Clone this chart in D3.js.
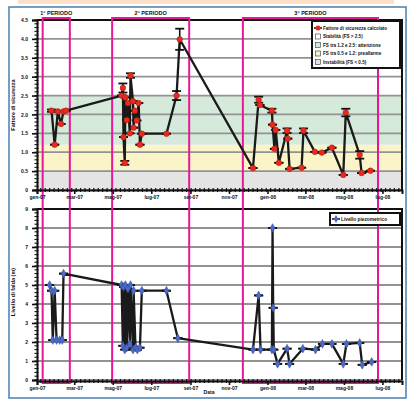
<!DOCTYPE html>
<html><head><meta charset="utf-8">
<script src="https://cdn.jsdelivr.net/npm/d3@7"></script>
<style>
html,body{margin:0;padding:0;background:#fff;}
svg{display:block;font-family:"Liberation Sans",Arial,sans-serif;}
</style></head><body>
<svg id="c" width="409" height="402"></svg>
<script>
// Monitoring periods
const periodNames = ["1° PERIODO", "2° PERIODO", "3° PERIODO"];
const periodStart = ["2007-01-10", "2007-04-30", "2007-11-23"];
const periodEnd   = ["2007-02-22", "2007-08-30", "2008-06-24"];

// Safety factor series (value ± error)
const fsDates = ["2007-01-24","2007-01-29","2007-02-03","2007-02-08","2007-02-12","2007-02-16",
  "2007-05-15","2007-05-17","2007-05-18","2007-05-20","2007-05-21","2007-05-23","2007-05-25","2007-05-28",
  "2007-05-29","2007-06-02","2007-06-03","2007-06-05","2007-06-08","2007-06-11","2007-06-13","2007-06-16",
  "2007-07-25","2007-08-10","2007-08-15",
  "2007-12-09","2007-12-18","2007-12-20","2008-01-08","2008-01-09","2008-01-12","2008-01-14","2008-01-19",
  "2008-02-01","2008-02-02","2008-02-05","2008-02-24","2008-02-27","2008-03-16","2008-03-27","2008-04-12",
  "2008-04-30","2008-05-04","2008-05-26","2008-05-29","2008-06-12"];
const fsValues = [2.10,1.20,2.08,1.75,2.08,2.10,
  2.50,2.70,1.40,0.72,2.45,1.85,2.30,1.50,
  3.03,2.35,1.65,2.10,1.84,2.30,1.20,1.49,
  1.49,2.50,3.99,
  0.58,2.39,2.25,2.10,1.73,1.09,1.59,0.72,
  1.57,1.36,0.56,0.59,1.57,1.01,0.99,1.12,
  0.40,2.05,0.93,0.45,0.51];
const fsErrors = [0.03,0,0,0,0,0,
  0,0.12,0,0.05,0,0,0,0,
  0.06,0,0,0,0,0,0,0,
  0,0.12,0.28,
  0,0.08,0,0.05,0,0,0,0,
  0.06,0,0,0,0.06,0,0,0,
  0,0.10,0.10,0,0];

// Safety factor thresholds (band limits)
const fsThresholds = [0, 0.5, 1.2, 2.5];

// Groundwater level series
const levelDates = ["2007-01-21","2007-01-24","2007-01-26","2007-01-29","2007-02-01","2007-02-06","2007-02-10","2007-02-12",
  "2007-05-15","2007-05-17","2007-05-18","2007-05-20","2007-05-21","2007-05-23","2007-05-25","2007-05-28","2007-05-29",
  "2007-06-02","2007-06-03","2007-06-06","2007-06-09","2007-06-13","2007-06-16","2007-07-25","2007-08-12",
  "2007-12-09","2007-12-18","2007-12-21","2008-01-08","2008-01-09","2008-01-10","2008-01-11","2008-01-17",
  "2008-02-01","2008-02-05","2008-02-26","2008-03-17","2008-03-28","2008-04-12","2008-04-30","2008-05-05",
  "2008-05-26","2008-05-30","2008-06-14"];
const levelValues = [5.0,4.7,2.1,4.7,2.1,2.1,2.1,5.6,
  5.0,1.8,4.9,1.6,5.0,1.7,4.8,1.9,5.0,
  1.6,4.7,1.7,1.6,1.7,4.7,4.7,2.2,
  1.6,4.45,1.6,1.6,8.0,3.8,1.6,0.85,
  1.65,0.85,1.65,1.6,1.9,1.9,0.85,1.9,
  1.95,0.8,0.95];

// Axis ticks
const monthTicks = ["2007-01-01","2007-03-01","2007-05-01","2007-07-01","2007-09-01","2007-11-01",
  "2008-01-01","2008-03-01","2008-05-01","2008-07-01"];
const monthLabels = ["gen-07","mar-07","mag-07","lug-07","set-07","nov-07","gen-08","mar-08","mag-08","lug-08"];
const fsTicks = [0,0.5,1,1.5,2,2.5,3,3.5,4,4.5];
const levelTicks = [0,1,2,3,4,5,6,7,8,9];

// Legend texts
const fsLegend = ["Fattore di sicurezza calcolato","Stabilità (FS > 2.5)","FS tra 1.2 e 2.5: attenzione",
  "FS tra 0.5 e 1.2: preallarme","Instabilità (FS < 0.5)"];
const levelLegend = ["Livello piezometrico"];

const parse = d3.timeParse("%Y-%m-%d");
const svg = d3.select("#c");

const L = 37, R = 402;
const x = d3.scaleTime().domain([parse("2007-01-01"), parse("2008-08-01")]).range([L, R]);
const yTop = d3.scaleLinear().domain([0, 4.5]).range([190, 20]);
const yBot = d3.scaleLinear().domain([0, 9]).range([380, 209]);

// page decoration
svg.append("rect").attr("x", 18).attr("y", 0).attr("width", 376).attr("height", 4).attr("fill", "#fde0ca");
svg.append("rect").attr("x", 9).attr("y", 7).attr("width", 397).attr("height", 391)
  .attr("fill", "none").attr("stroke", "#4a7fae").attr("stroke-width", 1.5);

const fsData = fsDates.map((d, i) => ({ date: parse(d), v: fsValues[i], e: fsErrors[i] }));
const lvData = levelDates.map((d, i) => ({ date: parse(d), v: levelValues[i], e: 0 }));

// ---- top panel: bands
const bandColors = ["#e4e4e4", "#f9f5c9", "#d6eadb"];
for (let i = 0; i < fsThresholds.length - 1; i++) {
  svg.append("rect").attr("x", L).attr("width", R - L)
    .attr("y", yTop(fsThresholds[i + 1])).attr("height", yTop(fsThresholds[i]) - yTop(fsThresholds[i + 1]))
    .attr("fill", bandColors[i]);
}

function grid(scale, ticks) {
  svg.append("g").selectAll("line").data(ticks).join("line")
    .attr("x1", L).attr("x2", R).attr("y1", d => scale(d)).attr("y2", d => scale(d))
    .attr("stroke", "#929292").attr("stroke-width", 1.8);
}
grid(yTop, fsTicks);
grid(yBot, levelTicks);

// frames (top and right edges)
function frame(scale) {
  const [y0, y1] = scale.range();
  svg.append("path").attr("d", `M${L},${y1}H${R}V${y0}`).attr("fill", "none")
    .attr("stroke", "#111").attr("stroke-width", 2);
}
frame(yTop); frame(yBot);

// period boxes spanning both panels
const periods = periodNames.map((n, i) => ({ name: n, s: parse(periodStart[i]), e: parse(periodEnd[i]) }));
svg.append("g").selectAll("rect").data(periods).join("rect")
  .attr("x", d => x(d.s)).attr("width", d => x(d.e) - x(d.s))
  .attr("y", 18).attr("height", 383 - 18)
  .attr("fill", "none").attr("stroke", "#e8179a").attr("stroke-width", 2);
svg.append("g").selectAll("text").data(periods).join("text")
  .attr("x", d => (x(d.s) + x(d.e)) / 2).attr("y", 15).attr("text-anchor", "middle")
  .attr("font-size", 5.5).attr("font-weight", "bold").attr("fill", "#111").text(d => d.name);

// axes
const weeks = d3.timeWeek.range(...x.domain());
function xAxis(yPos) {
  const g = svg.append("g").attr("transform", `translate(0,${yPos})`);
  g.append("g").selectAll("line").data(weeks).join("line")
    .attr("x1", d => x(d)).attr("x2", d => x(d)).attr("y1", -2).attr("y2", 2)
    .attr("stroke", "#111").attr("stroke-width", 1.2);
  const ax = g.append("g").call(d3.axisBottom(x).tickValues(monthTicks.map(parse))
    .tickFormat((d, i) => monthLabels[i]).tickSize(4).tickPadding(1.5));
  ax.select(".domain").attr("stroke", "#111").attr("stroke-width", 2);
  ax.selectAll(".tick line").attr("stroke", "#111").attr("stroke-width", 1.6);
  ax.selectAll("text").attr("font-size", 5).attr("font-weight", "bold").attr("fill", "#111")
    .attr("font-family", "Liberation Sans, Arial, sans-serif");
}
function yAxis(scale, ticks, minorStep, fmt) {
  const g = svg.append("g").attr("transform", `translate(${L},0)`);
  const [a, b] = scale.domain();
  const minors = d3.range(a, b + 1e-9, minorStep);
  g.append("g").selectAll("line").data(minors).join("line")
    .attr("x1", -2.5).attr("x2", 1.5).attr("y1", d => scale(d)).attr("y2", d => scale(d))
    .attr("stroke", "#111").attr("stroke-width", 1.1);
  const ax = g.append("g").call(d3.axisLeft(scale).tickValues(ticks).tickFormat(fmt).tickSize(5).tickPadding(4));
  ax.select(".domain").attr("stroke", "#111").attr("stroke-width", 2);
  ax.selectAll(".tick line").attr("stroke", "#111").attr("stroke-width", 1.6);
  ax.selectAll("text").attr("font-size", 5).attr("font-weight", "bold").attr("fill", "#111")
    .attr("font-family", "Liberation Sans, Arial, sans-serif");
}
xAxis(190); xAxis(381);
yAxis(yTop, fsTicks, 0.1, d => d === 0 ? "0" : d.toFixed(1));
yAxis(yBot, levelTicks, 0.2, d => String(d));

// axis titles
svg.append("text").attr("transform", "translate(15,105) rotate(-90)").attr("text-anchor", "middle")
  .attr("font-size", 5.5).attr("font-weight", "bold").attr("fill", "#111").text("Fattore di sicurezza");
svg.append("text").attr("transform", "translate(15,292) rotate(-90)").attr("text-anchor", "middle")
  .attr("font-size", 5.5).attr("font-weight", "bold").attr("fill", "#111").text("Livello di falda (m)");
svg.append("text").attr("x", 209).attr("y", 394).attr("text-anchor", "middle")
  .attr("font-size", 5).attr("font-weight", "bold").attr("fill", "#111").text("Data");

// series with error caps
function series(data, scale, markerFn) {
  const line = d3.line().x(d => x(d.date)).y(d => scale(d.v));
  svg.append("path").datum(data).attr("d", line).attr("fill", "none")
    .attr("stroke", "#1a1a1a").attr("stroke-width", 2.3).attr("stroke-linejoin", "round");
  const eb = svg.append("g").attr("stroke", "#111");
  eb.selectAll("line.v").data(data.filter(d => d.e > 0)).join("line").attr("class", "v")
    .attr("x1", d => x(d.date)).attr("x2", d => x(d.date))
    .attr("y1", d => scale(d.v - d.e)).attr("y2", d => scale(d.v + d.e)).attr("stroke-width", 1.6);
  const caps = data.flatMap(d => [{ date: d.date, y: d.v + d.e }, { date: d.date, y: d.v - d.e }]);
  eb.selectAll("line.c").data(caps).join("line").attr("class", "c")
    .attr("x1", d => x(d.date) - 4.5).attr("x2", d => x(d.date) + 4.5)
    .attr("y1", d => scale(d.y)).attr("y2", d => scale(d.y)).attr("stroke-width", 1.8);
  markerFn(svg.append("g").selectAll("path").data(data).join("path")
    .attr("transform", d => `translate(${x(d.date)},${scale(d.v)})`));
}
series(fsData, yTop, sel => sel.attr("d", d3.symbol(d3.symbolCircle, 26)())
  .attr("fill", "#e8291d").attr("stroke", "#9a1a10").attr("stroke-width", 0.4));
series(lvData, yBot, sel => sel.attr("d", d3.symbol(d3.symbolDiamond, 22)())
  .attr("fill", "#4b69c6").attr("stroke", "#2a3f86").attr("stroke-width", 0.4));

// legends
function legendBox(x0, y0, w, h) {
  svg.append("rect").attr("x", x0).attr("y", y0).attr("width", w).attr("height", h)
    .attr("fill", "#fff").attr("stroke", "#111").attr("stroke-width", 2);
}
legendBox(312, 21, 88, 47);
const swatch = ["#e8291d", "#ffffff", "#d6eadb", "#f9f5c9", "#e4e4e4"];
const lg = svg.append("g").selectAll("g").data(fsLegend).join("g")
  .attr("transform", (d, i) => `translate(318,${28 + i * 8.5})`);
lg.each(function (d, i) {
  const g = d3.select(this);
  if (i === 0) {
    g.append("line").attr("x1", -4).attr("x2", 4).attr("stroke", "#111").attr("stroke-width", 1.5);
    g.append("path").attr("d", d3.symbol(d3.symbolCircle, 20)()).attr("fill", swatch[0]);
  } else {
    g.append("rect").attr("x", -2.5).attr("y", -2.5).attr("width", 5).attr("height", 5)
      .attr("fill", swatch[i]).attr("stroke", "#333").attr("stroke-width", 0.6);
  }
  g.append("text").attr("x", 5).attr("y", 1.7).attr("font-size", 4.6).attr("font-weight", "bold")
    .attr("fill", "#111").text(d);
});
legendBox(330, 213, 70, 12);
const lg2 = svg.append("g").attr("transform", "translate(336,219)");
lg2.append("line").attr("x1", -4).attr("x2", 4).attr("stroke", "#111").attr("stroke-width", 1.5);
lg2.append("path").attr("d", d3.symbol(d3.symbolDiamond, 18)()).attr("fill", "#4b69c6");
lg2.append("text").attr("x", 5).attr("y", 1.7).attr("font-size", 4.8).attr("font-weight", "bold")
  .attr("fill", "#111").text(levelLegend[0]);
</script>
</body></html>
